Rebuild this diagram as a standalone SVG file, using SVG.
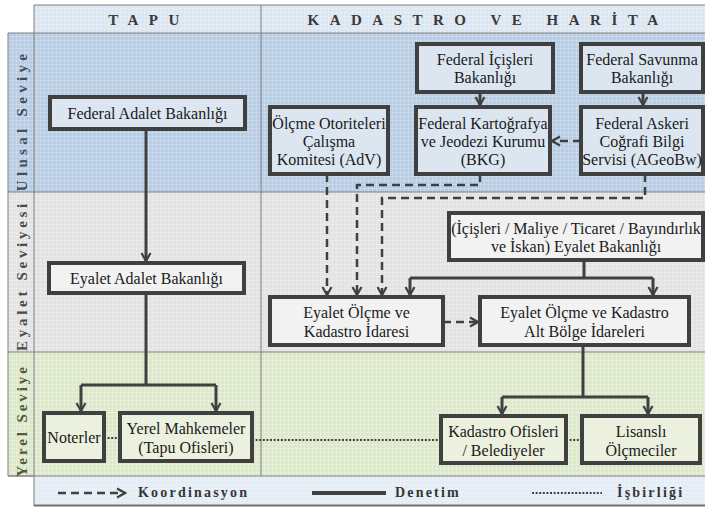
<svg xmlns="http://www.w3.org/2000/svg" width="705" height="508" viewBox="0 0 705 508">
<style>
.box{stroke:#404040;stroke-width:4}
.bb{fill:#dce6f1}
.bg{fill:#f2f2f2}
.bgr{fill:#ebf1de}
.t{font-family:"Liberation Serif","Times New Roman",serif;font-size:16px;fill:#1a1a1a;text-anchor:middle}
.hd{font-family:"Liberation Serif","Times New Roman",serif;font-size:15px;font-weight:bold;fill:#3a3a3a;letter-spacing:10.5px;text-anchor:middle}
.lv{font-family:"Liberation Serif","Times New Roman",serif;font-size:15px;font-weight:bold;text-anchor:middle}
.lg{font-family:"Liberation Serif","Times New Roman",serif;font-size:14px;font-weight:bold;fill:#353535;letter-spacing:2.2px}
.sol{fill:none;stroke:#404040;stroke-width:3}
.dsh{fill:none;stroke:#404040;stroke-width:2.5;stroke-dasharray:8 5}
.dot{fill:none;stroke:#404040;stroke-width:2;stroke-dasharray:2 1.6}
.ln{stroke:#7f7f7f;stroke-width:1;fill:none}
</style>
<defs>
<pattern id="grid" width="4" height="4" patternUnits="userSpaceOnUse">
<path d="M0 0.5H4M0.5 0V4" stroke="#ffffff" stroke-opacity="0.35" stroke-width="0.6" fill="none"/>
</pattern>
<marker id="ar" viewBox="0 0 12 12" refX="10" refY="6" markerWidth="12" markerHeight="12" markerUnits="userSpaceOnUse" orient="auto">
<path d="M2 1.5L10 6L2 10.5" fill="none" stroke="#404040" stroke-width="2.2"/>
</marker>
</defs>
<rect width="705" height="508" fill="#ffffff"/>
<!-- bands -->
<rect x="34" y="5" width="671" height="28" fill="#dce6f1"/>
<rect x="8" y="33" width="697" height="159" fill="#b8cce4"/>
<rect x="8" y="192" width="697" height="160" fill="#e3e3e3"/>
<rect x="8" y="352" width="697" height="124" fill="#dde8cb"/>
<rect x="34" y="476" width="671" height="30" fill="#e4ecf5"/>
<rect x="8" y="5" width="697" height="501" fill="url(#grid)"/>
<rect x="8" y="5" width="26" height="28" fill="#ffffff"/>
<!-- frame lines -->
<path class="ln" d="M34 5H705M34 5V506M8 33H705M8 33V476H34M8 192H705M8 352H705M8 476H705M261 5V476"/>
<path d="M34 505.5H705" stroke="#6f6f6f" stroke-width="2"/>
<text class="hd" x="149" y="25">TAPU</text>
<text class="hd" x="488" y="25">KADASTRO VE HARİTA</text>
<text class="lv" fill="#434c5a" letter-spacing="4.3" transform="translate(27 120.5) rotate(-90)">Ulusal Seviye</text>
<text class="lv" fill="#4a4a4a" letter-spacing="3.7" transform="translate(27 275.5) rotate(-90)">Eyalet Seviyesi</text>
<text class="lv" fill="#505c36" letter-spacing="2.9" transform="translate(27 420.5) rotate(-90)">Yerel Seviye</text>
<!-- connectors -->
<g id="connectors">
<path class="sol" d="M146 129V261" marker-end="url(#ar)"/>
<path class="sol" d="M146 293V385"/>
<path class="sol" d="M81 385H216"/>
<path class="sol" d="M81 385V411" marker-end="url(#ar)"/>
<path class="sol" d="M216 385V411" marker-end="url(#ar)"/>
<path class="sol" d="M480 92V105" marker-end="url(#ar)"/>
<path class="sol" d="M643 92V105" marker-end="url(#ar)"/>
<path class="dsh" d="M581 141H552" marker-end="url(#ar)"/>
<path class="dsh" d="M327 174V295" marker-end="url(#ar)"/>
<path class="dsh" d="M480 174V185H357V295" marker-end="url(#ar)"/>
<path class="dsh" d="M645 174V198H382V295" marker-end="url(#ar)"/>
<path class="sol" d="M584 260V278"/>
<path class="sol" d="M410 278H653"/>
<path class="sol" d="M410 278V295" marker-end="url(#ar)"/>
<path class="sol" d="M653 278V295" marker-end="url(#ar)"/>
<path class="dsh" d="M443 322H478" marker-end="url(#ar)"/>
<path class="sol" d="M583 345V397"/>
<path class="sol" d="M502 397H648"/>
<path class="sol" d="M502 397V414" marker-end="url(#ar)"/>
<path class="sol" d="M648 397V414" marker-end="url(#ar)"/>
<path class="dot" d="M104 438H120"/>
<path class="dot" d="M252 440H441"/>
<path class="dot" d="M566 440H582"/>
</g>
<!-- nodes -->
<g id="fab"><rect class="box bb" x="50" y="97" width="195" height="32"/><text class="t" x="147.5" y="118.5">Federal Adalet Bakanlığı</text></g>
<g id="eab"><rect class="box bg" x="49" y="263" width="195" height="30"/><text class="t" x="146.5" y="283.5">Eyalet Adalet Bakanlığı</text></g>
<g id="ficb"><rect class="box bb" x="417" y="44" width="136" height="48"/><text class="t" x="485" y="65">Federal İçişleri</text><text class="t" x="485" y="83">Bakanlığı</text></g>
<g id="fsb"><rect class="box bb" x="581" y="44" width="122" height="48"/><text class="t" x="642" y="65">Federal Savunma</text><text class="t" x="642" y="83">Bakanlığı</text></g>
<g id="adv"><rect class="box bb" x="270" y="107" width="118" height="67"/><text class="t" x="329" y="129">Ölçme Otoriteleri</text><text class="t" x="329" y="147">Çalışma</text><text class="t" x="329" y="165">Komitesi (AdV)</text></g>
<g id="bkg"><rect class="box bb" x="416" y="107" width="134" height="67"/><text class="t" x="483" y="129">Federal Kartoğrafya</text><text class="t" x="483" y="147">ve Jeodezi Kurumu</text><text class="t" x="483" y="165">(BKG)</text></g>
<g id="ageobw"><rect class="box bb" x="581" y="107" width="122" height="67"/><text class="t" x="642" y="129">Federal Askeri</text><text class="t" x="642" y="147">Coğrafi Bilgi</text><text class="t" x="642" y="165">Servisi (AGeoBw)</text></g>
<g id="eb"><rect class="box bg" x="449" y="213" width="254" height="47"/><text class="t" x="576" y="234">(İçişleri / Maliye / Ticaret / Bayındırlık</text><text class="t" x="576" y="252">ve İskan) Eyalet Bakanlığı</text></g>
<g id="eoki"><rect class="box bg" x="270" y="297" width="173" height="48"/><text class="t" x="356.5" y="318">Eyalet Ölçme ve</text><text class="t" x="356.5" y="337">Kadastro İdaresi</text></g>
<g id="abi"><rect class="box bg" x="480" y="297" width="209" height="48"/><text class="t" x="584.5" y="318">Eyalet Ölçme ve Kadastro</text><text class="t" x="584.5" y="337">Alt Bölge İdareleri</text></g>
<g id="noterler"><rect class="box bgr" x="44" y="413" width="60" height="48"/><text class="t" x="74" y="443" font-size="15">Noterler</text></g>
<g id="ym"><rect class="box bgr" x="120" y="413" width="132" height="48"/><text class="t" x="186" y="434">Yerel Mahkemeler</text><text class="t" x="186" y="453">(Tapu Ofisleri)</text></g>
<g id="ko"><rect class="box bgr" x="441" y="416" width="125" height="47"/><text class="t" x="503.5" y="437">Kadastro Ofisleri</text><text class="t" x="503.5" y="456">/ Belediyeler</text></g>
<g id="lo"><rect class="box bgr" x="582" y="416" width="118" height="47"/><text class="t" x="641" y="437">Lisanslı</text><text class="t" x="641" y="456">Ölçmeciler</text></g>
<!-- legend -->
<g id="legend">
<path class="dsh" d="M58 493H125" marker-end="url(#ar)"/>
<text class="lg" x="138" y="497">Koordinasyon</text>
<path d="M312 493H386" stroke="#404040" stroke-width="4"/>
<text class="lg" x="395" y="497">Denetim</text>
<path class="dot" d="M532 493H602"/>
<text class="lg" x="617" y="497">İşbirliği</text>
</g>
</svg>
